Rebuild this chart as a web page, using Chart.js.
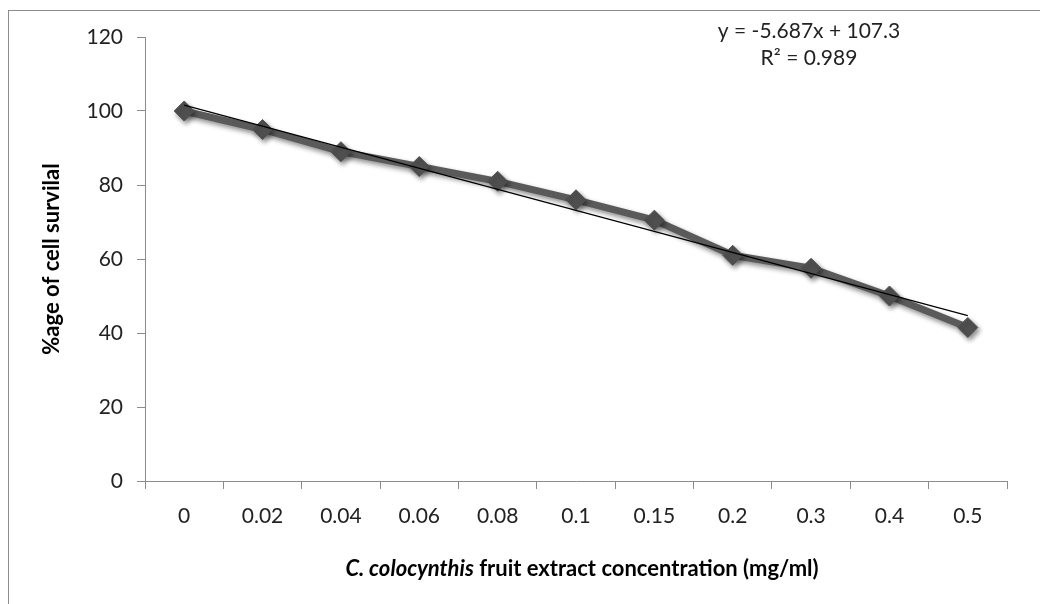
<!DOCTYPE html>
<html>
<head>
<meta charset="utf-8">
<script src="https://cdn.jsdelivr.net/npm/chart.js@4"></script>
<style>
  html, body { margin: 0; padding: 0; background: #fff; }
  #wrap { position: relative; width: 1040px; height: 604px; }
  #frame { position: absolute; left: 8px; top: 10px; right: -2px; bottom: -2px;
           border-left: 1px solid #8c8c8c; border-top: 1px solid #8c8c8c; }
  canvas { position: absolute; left: 0; top: 0; }
</style>
</head>
<body>
<div id="wrap">
  <div id="frame"></div>
  <canvas id="chartSurvival" width="1040" height="604"></canvas>
</div>
<script>
// concentracion (mg/ml) y % de supervivencia celular
var concentrations = ['0', '0.02', '0.04', '0.06', '0.08', '0.1', '0.15', '0.2', '0.3', '0.4', '0.5'];
var survival = [100, 95, 89, 85, 81, 76, 70.5, 61, 57.5, 50, 41.5];
// linea de tendencia: y = -5.687x + 107.3 (solo extremos)
var trendValues = [101.6, null, null, null, null, null, null, null, null, null, 44.7];
var equationLines = ['y = -5.687x + 107.3', 'R\u00b2 = 0.989'];
var yTicks = [0, 20, 40, 60, 80, 100, 120];

var fontFam = 'Lato, "Open Sans", sans-serif';

var shadowPlugin = {
  id: 'shadowPlugin',
  beforeDatasetDraw: function (chart, args) {
    if (args.index !== 1) return;
    var c = chart.ctx;
    c.save();
    c.shadowColor = 'rgba(0,0,0,0.45)';
    c.shadowBlur = 5;
    c.shadowOffsetX = 2;
    c.shadowOffsetY = 3;
  },
  afterDatasetDraw: function (chart, args) {
    if (args.index !== 1) return;
    chart.ctx.restore();
  }
};

var textPlugin = {
  id: 'textPlugin',
  afterDraw: function (chart) {
    var c = chart.ctx;
    var area = chart.chartArea;
    c.save();
    c.fillStyle = '#000';
    c.textBaseline = 'middle';

    /* titulo eje x con parte en cursiva */
    var part1 = 'C. colocynthis';
    var part2 = ' fruit extract concentration (mg/ml)';
    var f1 = 'italic bold 22px ' + fontFam;
    var f2 = 'bold 22px ' + fontFam;
    c.font = f1;
    var w1 = c.measureText(part1).width;
    c.font = f2;
    var w2 = c.measureText(part2).width;
    var x0 = 582 - (w1 + w2) / 2;
    c.textAlign = 'left';
    c.font = f1;
    c.fillText(part1, x0, 569);
    c.font = f2;
    c.fillText(part2, x0 + w1, 569);

    /* ecuacion */
    c.textAlign = 'center';
    c.font = '21px ' + fontFam;
    c.fillStyle = '#222';
    c.fillText(equationLines[0], 809, 31);
    c.fillText(equationLines[1], 809, 58);
    c.restore();
  }
};

var ctx = document.getElementById('chartSurvival').getContext('2d');
var chartSurvival = new Chart(ctx, {
  type: 'line',
  plugins: [shadowPlugin, textPlugin],
  data: {
    labels: concentrations,
    datasets: [
      {
        label: 'Trend',
        data: trendValues,
        spanGaps: true,
        borderColor: '#000',
        borderWidth: 1.2,
        pointRadius: 0,
        order: 0,
      },
      {
        label: '%age of cell survival',
        data: survival,
        borderColor: '#5a5a5a',
        borderWidth: 7,
        pointStyle: 'rectRot',
        pointRadius: 10,
        pointBackgroundColor: '#505050',
        pointBorderColor: '#505050',
        pointBorderWidth: 1,
        tension: 0,
        order: 1,
      },
    ],
  },
  options: {
    responsive: false,
    animation: false,
    layout: { padding: { left: 0, top: 37, right: 33, bottom: 0 } },
    plugins: {
      legend: { display: false },
      tooltip: { enabled: false },
    },
    scales: {
      x: {
        type: 'category',
        offset: true,
        afterFit: function (scale) { scale.height = 123; },
        grid: {
          offset: true,
          drawOnChartArea: false,
          drawTicks: true,
          tickLength: 8,
          color: '#8c8c8c',
        },
        border: { color: '#8c8c8c', width: 1 },
        ticks: {
          color: '#222',
          padding: 15,
          font: { family: fontFam, size: 21 },
          maxRotation: 0,
        },
      },
      y: {
        min: 0,
        max: 120,
        afterFit: function (scale) { scale.width = 145; },
        afterBuildTicks: function (scale) {
          scale.ticks = yTicks.map(function (v) { return { value: v }; });
        },
        grid: {
          drawOnChartArea: false,
          drawTicks: true,
          tickLength: 8,
          color: '#8c8c8c',
        },
        border: { color: '#8c8c8c', width: 1 },
        ticks: {
          color: '#222',
          padding: 14,
          font: { family: fontFam, size: 21 },
        },
        title: {
          display: true,
          text: '%age of cell survilal',
          color: '#000',
          font: { family: fontFam, size: 22, weight: 'bold' },
          padding: { top: 39, bottom: 0 },
        },
      },
    },
  },
});
</script>
</body>
</html>
